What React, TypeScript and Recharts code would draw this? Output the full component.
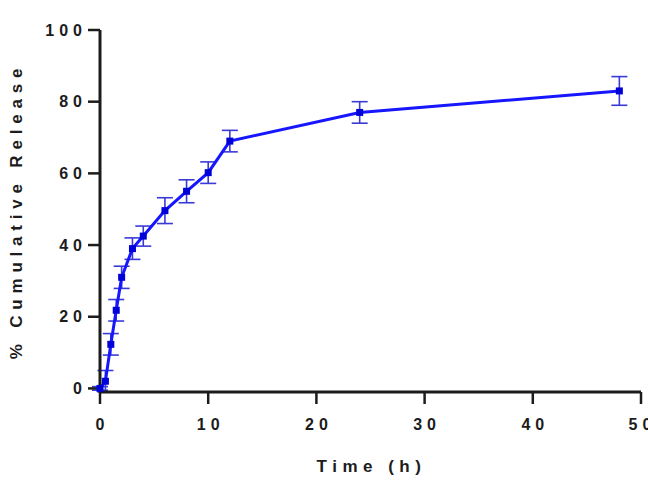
import { LineChart, Line, XAxis, YAxis, ErrorBar } from "recharts";

// sampling times (h), mean cumulative release (%) and SD
const times = [0, 0.5, 1, 1.5, 2, 3, 4, 6, 8, 10, 12, 24, 48];
const release = [0, 2, 12.3, 21.8, 31, 39, 42.5, 49.6, 55, 60.2, 69, 77, 83];
const sd = [0.5, 3, 3, 3, 3.1, 3, 2.8, 3.6, 3.2, 3, 3, 3, 4];
const xTicks = [0, 10, 20, 30, 40, 50];
const yTicks = [0, 20, 40, 60, 80, 100];

const data = times.map((t, i) => ({ time: t, release: release[i], err: sd[i] }));

const FONT = "'Liberation Sans', Arial, sans-serif";
const INK = "#1c1c1c";

const XTick = ({ x, y, payload }: any) => (
  <text x={x + 2.5} y={y + 24} textAnchor="middle" fontFamily={FONT} fontWeight="bold"
    fontSize={16} letterSpacing={5} fill={INK}>
    {payload.value}
  </text>
);

const YTick = ({ x, y, payload }: any) => (
  <text x={x + 1} y={y + 5.5} textAnchor="end" fontFamily={FONT} fontWeight="bold"
    fontSize={16} letterSpacing={5} fill={INK}>
    {payload.value}
  </text>
);

const XTitle = ({ viewBox }: any) => (
  <text x={viewBox.x + viewBox.width / 2 + 1} y={viewBox.y + 80} textAnchor="middle"
    fontFamily={FONT} fontWeight="bold" fontSize={17} letterSpacing={5.5} fill={INK}>
    Time (h)
  </text>
);

const YTitle = ({ viewBox }: any) => {
  const cy = viewBox.y + viewBox.height / 2;
  return (
    <text x={22} y={cy} transform={`rotate(-90, 22, ${cy})`} textAnchor="middle"
      fontFamily={FONT} fontWeight="bold" fontSize={17} letterSpacing={5.8} fill={INK}>
      % Cumulative Release
    </text>
  );
};

const SquareDot = ({ cx, cy, index }: any) => (
  <rect key={`d${index}`} x={cx - 3.5} y={cy - 3.5} width={7} height={7} fill="#0000d8" />
);

export default function App() {
  return (
    <div style={{ position: "absolute", left: 0, top: 0, background: "#fff" }}>
      <LineChart width={648} height={482} data={data}
        margin={{ top: 30, right: 7, bottom: 0, left: 40 }}>
        <XAxis dataKey="time" type="number" domain={[0, 50]} ticks={xTicks}
          height={90} tickSize={12} tick={<XTick />}
          axisLine={{ stroke: INK, strokeWidth: 3 }}
          tickLine={{ stroke: INK, strokeWidth: 2.5 }}
          label={<XTitle />} />
        <YAxis type="number" domain={[0, 100]} ticks={yTicks} width={60}
          tickSize={12} tick={<YTick />}
          axisLine={{ stroke: INK, strokeWidth: 3 }}
          tickLine={{ stroke: INK, strokeWidth: 2.5 }}
          label={<YTitle />} />
        <Line type="linear" dataKey="release" stroke="#1616ff" strokeWidth={3}
          dot={SquareDot} activeDot={false} isAnimationActive={false}>
          <ErrorBar dataKey="err" direction="y" width={8} strokeWidth={1.6}
            stroke="#3a3ad8" isAnimationActive={false} />
        </Line>
      </LineChart>
    </div>
  );
}
